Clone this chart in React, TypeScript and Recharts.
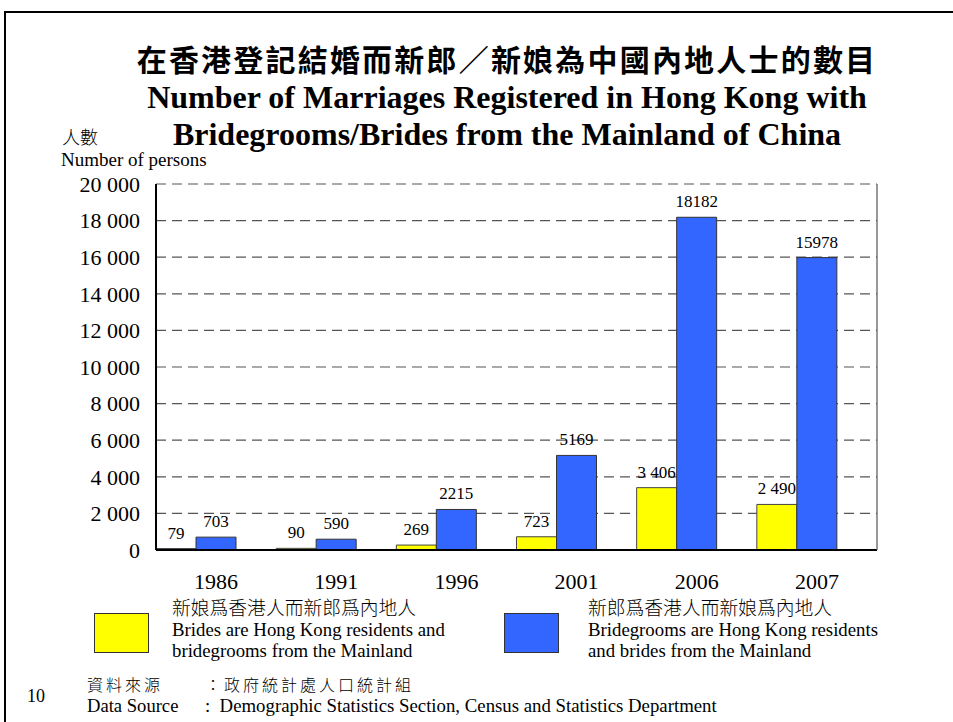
import React from 'react';
import { BarChart, Bar, XAxis, YAxis, CartesianGrid, LabelList } from 'recharts';

const years = ['1986', '1991', '1996', '2001', '2006', '2007'];
const bridesHongKong = [79, 90, 269, 723, 3406, 2490];
const bridegroomsHongKong = [703, 590, 2215, 5169, 18182, 15978];
const yTicks = [0, 2000, 4000, 6000, 8000, 10000, 12000, 14000, 16000, 18000, 20000];

const data = years.map((year, i) => ({
  year,
  brides: bridesHongKong[i],
  grooms: bridegroomsHongKong[i],
}));

const spaced = (v: any) => String(v).replace(/\B(?=(\d{3})+(?!\d))/g, ' ');
const plain = (v: any) => String(v);

const SERIF = '"Liberation Serif", "Times New Roman", serif';
const CJK = '"Noto Sans CJK TC", "Noto Sans CJK SC", sans-serif';

const abs = (left: number, top: number, extra: any = {}): any => ({
  position: 'absolute',
  left,
  top,
  lineHeight: 1,
  whiteSpace: 'nowrap',
  color: '#000',
  ...extra,
});

export default function App() {
  return (
    <div style={{ position: 'absolute', left: 0, top: 0, width: 953, height: 722, background: '#fff', overflow: 'hidden' }}>
      <div style={{ position: 'absolute', left: 4, top: 11, width: 960, height: 720, borderLeft: '2px solid #000', borderTop: '2px solid #000' }} />
      <BarChart
        width={953}
        height={722}
        data={data}
        margin={{ top: 184, right: 75, bottom: 132, left: 56 }}
        barGap={0}
        barCategoryGap={20}
        style={{ position: 'absolute', left: 0, top: 0 }}
      >
        <CartesianGrid vertical={false} stroke="#555" strokeDasharray="10 6" strokeWidth={1.2} />
        <XAxis
          dataKey="year"
          tickLine={false}
          tickSize={0}
          tickMargin={23}
          height={40}
          axisLine={{ stroke: '#000', strokeWidth: 2 }}
          tick={{ fontSize: 22, fill: '#000', fontFamily: SERIF }}
          interval={0}
        />
        <XAxis xAxisId="bars" dataKey="year" hide padding={{ left: -20, right: 20 }} />
        <YAxis
          domain={[0, 20000]}
          ticks={yTicks}
          interval={0}
          tickFormatter={spaced}
          width={100}
          tickLine={false}
          tickSize={0}
          tickMargin={16}
          axisLine={{ stroke: '#000', strokeWidth: 2 }}
          tick={{ fontSize: 22, fill: '#000', fontFamily: SERIF }}
        />
        <YAxis
          yAxisId="r"
          orientation="right"
          width={1}
          domain={[0, 20000]}
          ticks={yTicks}
          tick={false}
          tickLine={false}
          axisLine={{ stroke: '#555', strokeWidth: 1.2 }}
        />
        <Bar xAxisId="bars" dataKey="brides" fill="#FFFF00" stroke="#444" strokeWidth={1} isAnimationActive={false}>
          <LabelList
            dataKey="brides"
            position="top"
            offset={10}
            formatter={spaced}
            style={{ fontSize: 17, fill: '#000', fontFamily: SERIF }}
          />
        </Bar>
        <Bar xAxisId="bars" yAxisId="r" dataKey="grooms" fill="#3366FF" stroke="#333" strokeWidth={1} isAnimationActive={false}>
          <LabelList
            dataKey="grooms"
            position="top"
            offset={10}
            formatter={plain}
            style={{ fontSize: 17, fill: '#000', fontFamily: SERIF }}
          />
        </Bar>
      </BarChart>

      <div style={abs(107, 43, { width: 800, textAlign: 'center', fontFamily: CJK, fontWeight: 700, fontSize: 30, letterSpacing: 2.2 })}>
        在香港登記結婚而新郎／新娘為中國內地人士的數目
      </div>
      <div style={abs(107, 81, { width: 800, textAlign: 'center', fontFamily: SERIF, fontWeight: 700, fontSize: 32 })}>
        Number of Marriages Registered in Hong Kong with
      </div>
      <div style={abs(107, 118, { width: 800, textAlign: 'center', fontFamily: SERIF, fontWeight: 700, fontSize: 32 })}>
        Bridegrooms/Brides from the Mainland of China
      </div>
      <div style={abs(62, 127, { fontFamily: CJK, fontSize: 18, fontWeight: 300 })}>人數</div>
      <div style={abs(61, 150, { fontFamily: SERIF, fontSize: 19 })}>Number of persons</div>

      <div style={{ position: 'absolute', left: 94, top: 613, width: 53, height: 38, background: '#FFFF00', border: '1px solid #333' }} />
      <div style={abs(172, 598, { fontFamily: CJK, fontSize: 18.8, fontWeight: 300 })}>新娘爲香港人而新郎爲內地人</div>
      <div style={abs(172, 621, { fontFamily: SERIF, fontSize: 18.8 })}>Brides are Hong Kong residents and</div>
      <div style={abs(172, 642, { fontFamily: SERIF, fontSize: 18.8 })}>bridegrooms from the Mainland</div>

      <div style={{ position: 'absolute', left: 504, top: 613, width: 53, height: 38, background: '#3366FF', border: '1px solid #333' }} />
      <div style={abs(588, 598, { fontFamily: CJK, fontSize: 18.8, fontWeight: 300 })}>新郎爲香港人而新娘爲內地人</div>
      <div style={abs(588, 621, { fontFamily: SERIF, fontSize: 18.8 })}>Bridegrooms are Hong Kong residents</div>
      <div style={abs(588, 642, { fontFamily: SERIF, fontSize: 18.8 })}>and brides from the Mainland</div>

      <div style={abs(27, 687, { fontFamily: SERIF, fontSize: 18 })}>10</div>
      <div style={abs(87, 676, { fontFamily: CJK, fontSize: 16, fontWeight: 300, letterSpacing: 3 })}>資料來源</div>
      <div style={abs(205, 676, { fontFamily: CJK, fontSize: 16, fontWeight: 300, letterSpacing: 3 })}>：政府統計處人口統計組</div>
      <div style={abs(87, 697, { fontFamily: SERIF, fontSize: 18.6 })}>Data Source</div>
      <div style={abs(205, 697, { fontFamily: SERIF, fontSize: 18.8 })}>:&nbsp;&nbsp;Demographic Statistics Section, Census and Statistics Department</div>
    </div>
  );
}
